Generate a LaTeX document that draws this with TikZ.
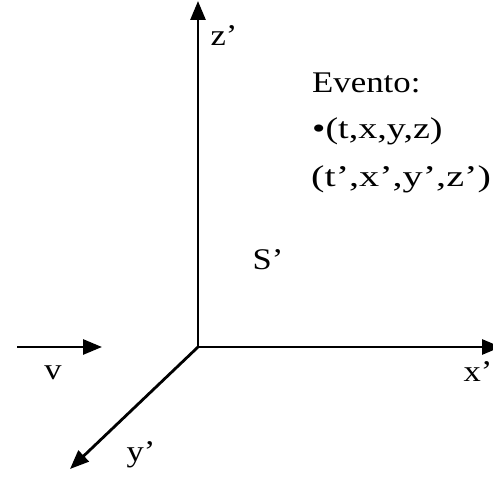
\documentclass[tikz,border=0pt]{standalone}
\usepackage{fontspec}
\setmainfont{Liberation Serif}
\usetikzlibrary{arrows.meta}
\tikzset{
  axis/.style={line width=2.8pt,-{Triangle[length=19pt,width=15pt]}},
  lbl/.style={inner sep=0pt,font=\fontsize{30}{34}\selectfont},
  wide/.style={inner sep=0pt,anchor=base west,font=\fontsize{30}{34}\selectfont}
}
\begin{document}
\begin{tikzpicture}[x=1pt,y=-1pt]
\useasboundingbox (0,0) rectangle (493,478);
\coordinate (O) at (198,347);
\coordinate (zt) at (198,1);
\coordinate (xt) at (501,347);
\coordinate (yt) at (70,469);
\coordinate (vs) at (17,347);
\coordinate (ve) at (102,347);
\draw[axis] (O) -- (zt);
\draw[axis] (O) -- (xt);
\draw[axis] (O) -- (yt);
\draw[axis] (vs) -- (ve);
\node[lbl] (zl) at (224,36) {\scalebox{1.15}[1]{z'}};
\node[lbl] (xl) at (478,372) {\scalebox{1.15}[1]{x'}};
\node[lbl] (yl) at (141,455) {\scalebox{1.15}[1]{y'}};
\node[lbl] (vl) at (53,373) {\scalebox{1.15}[1]{v}};
\node[lbl] (sl) at (268,260) {\scalebox{1.15}[1]{S'}};
\node[wide] (e1) at (312,93) {\scalebox{1.16}[1]{Evento:}};
\node[wide] (e2) at (312,139) {\scalebox{1.27}[1]{\textbullet(t,x,y,z)}};
\node[wide] (e3) at (311,187) {\scalebox{1.34}[1]{(t',x',y',z')}};
\end{tikzpicture}
\end{document}
